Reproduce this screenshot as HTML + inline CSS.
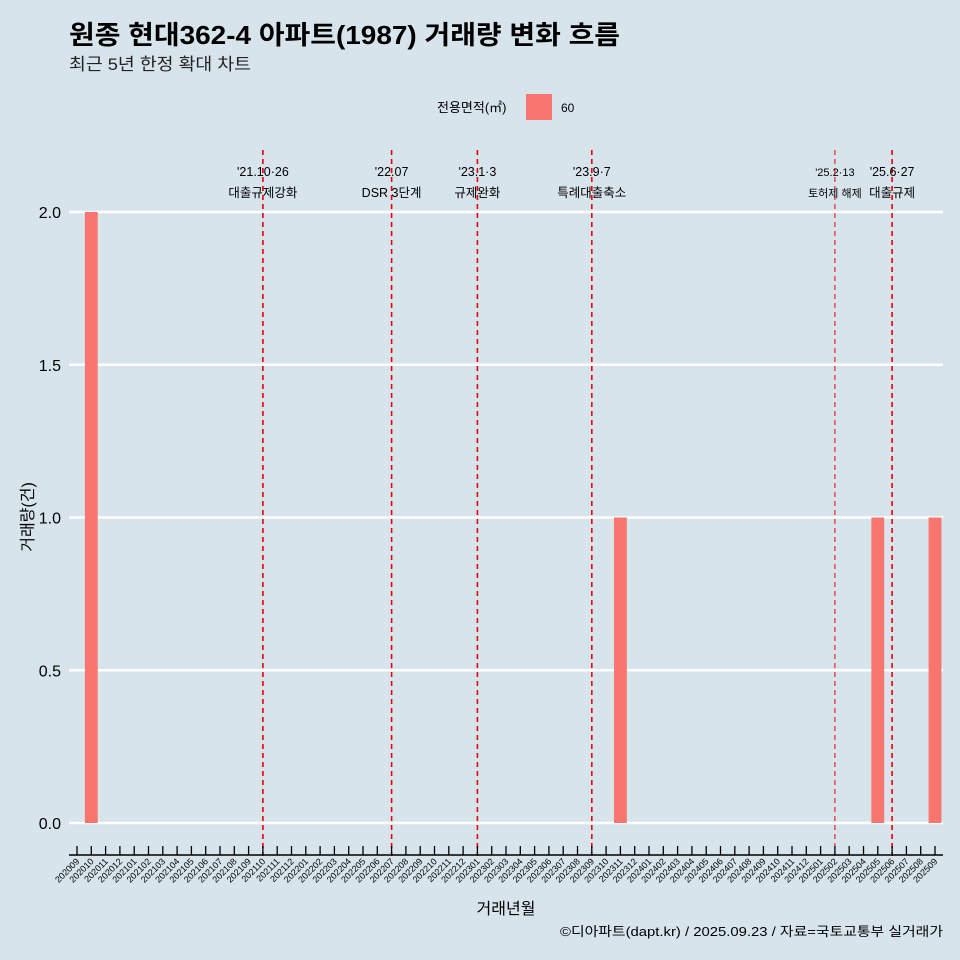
<!DOCTYPE html>
<html><head><meta charset="utf-8"><style>
body{margin:0;background:#d7e4eb;}
svg{display:block;font-family:"Liberation Sans","Noto Sans CJK KR",sans-serif;}
</style></head><body>
<svg id="c" width="960" height="960" viewBox="0 0 960 960">
<rect width="960" height="960" fill="#d7e4eb"/>
<text x="69" y="44" font-size="26" font-weight="bold" fill="#000" textLength="551" lengthAdjust="spacingAndGlyphs">원종 현대362-4 아파트(1987) 거래량 변화 흐름</text>
<text x="69" y="70" font-size="17" fill="#222" textLength="182" lengthAdjust="spacingAndGlyphs">최근 5년 한정 확대 차트</text>
<g>
<text x="437" y="112" font-size="13" fill="#000">전용면적(㎡)</text>
<rect x="526" y="94" width="26" height="26" fill="#f8766d"/>
<text x="561" y="112" font-size="12" fill="#000">60</text>
</g>
<g id="grid"></g><g id="bars"></g><g id="vl"></g><g id="xax"></g>
<text x="506" y="914" font-size="16" text-anchor="middle">거래년월</text>
<text transform="translate(33,517) rotate(-90)" font-size="16" text-anchor="middle">거래량(건)</text>
<text x="943" y="936" font-size="13" text-anchor="end" textLength="383" lengthAdjust="spacingAndGlyphs">©디아파트(dapt.kr) / 2025.09.23 / 자료=국토교통부 실거래가</text>
</svg>
<script>
const months=[];for(let y=2020,m=9;months.length<61;){months.push(y+String(m).padStart(2,'0'));m++;if(m>12){m=1;y++;}}
const barMonths=['202010','202311','202505','202509'];
const barValues=[2,1,1,1];
const yTicks=[0,0.5,1,1.5,2];
const yTickLabels=['0.0','0.5','1.0','1.5','2.0'];
const eventMonths=['202110','202207','202301','202309','202502','202506'];
const eventDates=["'21.10·26","'22.07","'23.1·3","'23.9·7","'25.2·13","'25.6·27"];
const eventLabels=['대출규제강화','DSR 3단계','규제완화','특례대출축소','토허제 해제','대출규제'];
const NS='http://www.w3.org/2000/svg';
const X0=77,STEP=14.3,Y0=823,YS=305.5;
const xs=m=>X0+months.indexOf(m)*STEP;
const ys=v=>Y0-v*YS;
function mk(t,a,p){const e=document.createElementNS(NS,t);for(const k in a)e.setAttribute(k,a[k]);document.getElementById(p).appendChild(e);return e;}
yTicks.forEach((v,i)=>{
 const l=mk('line',{x1:69,x2:943,y1:ys(v),y2:ys(v),stroke:'#fff','stroke-width':2.5},'grid');
 
 
 const t=mk('text',{x:61,y:ys(v)+6,'font-size':16,'text-anchor':'end'},'grid');t.textContent=yTickLabels[i];
 
 
});
barMonths.forEach((m,i)=>{
 const w=STEP*0.9;
 const r=mk('rect',{x:xs(m)-w/2,y:ys(barValues[i]),width:w,height:barValues[i]*YS,fill:'#f8766d'},'bars');
 
 
});
eventMonths.forEach((m,i)=>{
 const x=xs(m);const thin=i===4;
 const l=mk('line',{x1:x,x2:x,y1:150,y2:856,stroke:'#e8000b','stroke-width':thin?1:1.6,'stroke-dasharray':'5,4'},'vl');
 
 
 const fs=thin?11:12.5;
 const t1=mk('text',{x:x,y:176,'font-size':fs,'text-anchor':'middle'},'vl');t1.textContent=eventDates[i];
 
 
 const t2=mk('text',{x:x,y:197,'font-size':fs,'text-anchor':'middle'},'vl');t2.textContent=eventLabels[i];
 
 
});
const ax=mk('line',{x1:69,x2:943,y1:855,y2:855,stroke:'#000','stroke-width':1.5},'xax');


months.forEach(m=>{
 const x=xs(m);
 const tk=mk('line',{x1:x,x2:x,y1:846,y2:855,stroke:'#000','stroke-width':1.3},'xax');
 
 
 const t=mk('text',{transform:`translate(${x+3},${862}) rotate(-45)`,'font-size':9,'text-anchor':'end'},'xax');t.textContent=m;
 
 
});
</script>
</body></html>
